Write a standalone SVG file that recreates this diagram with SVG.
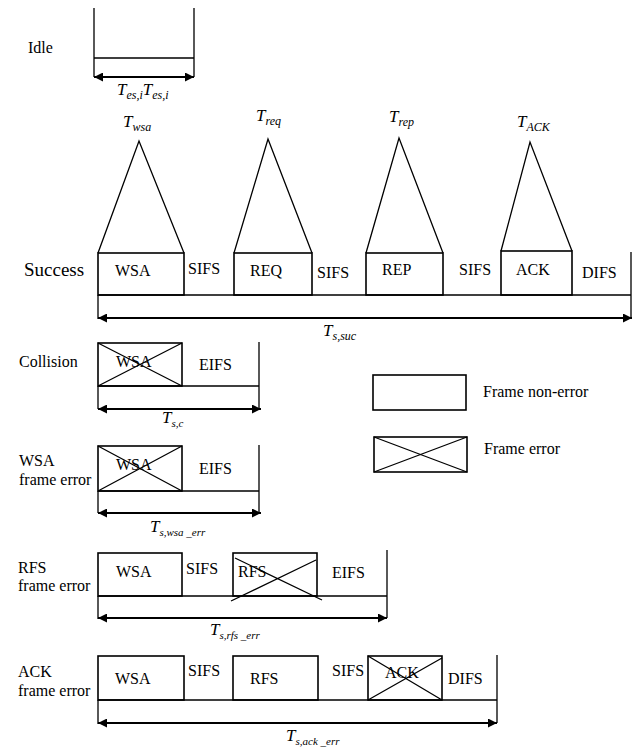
<svg xmlns="http://www.w3.org/2000/svg" width="642" height="747" viewBox="0 0 642 747">
<defs>
<style>
text{font-family:"Liberation Serif","Times New Roman",serif;font-size:16px;fill:#000}
.m{font-style:italic;font-size:17px}
.sub{font-size:12px}
.sub2{font-size:11px}
.box{fill:#fff;stroke:#000;stroke-width:1.6}
.ln{fill:none;stroke:#000;stroke-width:1.3}
.ar{fill:none;stroke:#000;stroke-width:2.2;marker-start:url(#ah);marker-end:url(#ah)}
</style>
<marker id="ah" viewBox="0 0 10 10" refX="10" refY="5" markerWidth="11" markerHeight="9" markerUnits="userSpaceOnUse" orient="auto-start-reverse"><path d="M0,0 L10,5 L0,10 z" fill="#000"/></marker>
</defs>
<rect width="642" height="747" fill="#fff"/>

<!-- Idle -->
<g id="idle-label"><text x="28" y="53">Idle</text></g>
<g id="idle-time"><text class="m" x="117" y="95">T<tspan class="sub" dy="4">es,i</tspan><tspan dy="-4">T</tspan><tspan class="sub" dy="4">es,i</tspan></text></g>

<!-- Success -->
<g id="success-label"><text x="24" y="276" style="font-size:19px">Success</text></g>
<g id="s-wsa"><rect class="box" x="98" y="253" width="86" height="42"/><text x="115" y="276">WSA</text></g>
<g id="s-sifs1"><text x="188" y="274">SIFS</text></g>
<g id="s-req"><rect class="box" x="234" y="253" width="78" height="42"/><text x="250" y="276">REQ</text></g>
<g id="s-sifs2"><text x="317" y="278">SIFS</text></g>
<g id="s-rep"><rect class="box" x="366" y="253" width="77" height="42"/><text x="382" y="275">REP</text></g>
<g id="s-sifs3"><text x="459" y="275">SIFS</text></g>
<g id="s-ack"><rect class="box" x="501" y="251" width="71" height="44"/><text x="516" y="275">ACK</text></g>
<g id="s-difs"><text x="582" y="278">DIFS</text></g>
<g id="t-wsa"><text class="m" x="123" y="127">T<tspan class="sub" dy="4">wsa</tspan></text></g>
<g id="t-req"><text class="m" x="256" y="121">T<tspan class="sub" dy="4">req</tspan></text></g>
<g id="t-rep"><text class="m" x="389" y="122">T<tspan class="sub" dy="4">rep</tspan></text></g>
<g id="t-ack"><text class="m" x="517" y="127">T<tspan class="sub" dy="4">ACK</tspan></text></g>
<g id="t-suc"><text class="m" x="323" y="336">T<tspan class="sub" dy="4">s,suc</tspan></text></g>

<!-- Collision -->
<g id="collision-label"><text x="19" y="367">Collision</text></g>
<g id="c-wsa"><rect class="box" x="98" y="343" width="84" height="43"/><text x="116" y="367">WSA</text><path class="ln" d="M98,343 L182,386 M98,386 L182,343"/></g>
<g id="c-eifs"><text x="199" y="370">EIFS</text></g>
<g id="t-c"><text class="m" x="162" y="423">T<tspan class="sub2" dy="4">s,c</tspan></text></g>

<!-- Legend -->
<g id="legend-ok"><rect class="box" x="373" y="375" width="93" height="35"/><text x="483" y="397">Frame non-error</text></g>
<g id="legend-err"><rect class="box" x="374" y="437" width="93" height="35"/><path class="ln" d="M374,437 L467,472 M374,472 L467,437"/><text x="484" y="454">Frame error</text></g>

<!-- WSA frame error -->
<g id="wsaerr-label"><text x="19" y="466">WSA</text><text x="19" y="485">frame error</text></g>
<g id="w-wsa"><rect class="box" x="98" y="446" width="84" height="45"/><text x="116" y="470">WSA</text><path class="ln" d="M98,446 L182,491 M98,491 L182,446"/></g>
<g id="w-eifs"><text x="199" y="474">EIFS</text></g>
<g id="t-wsaerr"><text class="m" x="150" y="532">T<tspan class="sub2" dy="4">s,wsa _err</tspan></text></g>

<!-- RFS frame error -->
<g id="rfserr-label"><text x="18" y="573">RFS</text><text x="18" y="591">frame error</text></g>
<g id="r-wsa"><rect class="box" x="98" y="553" width="84" height="43"/><text x="116" y="577">WSA</text></g>
<g id="r-sifs"><text x="186" y="574">SIFS</text></g>
<g id="r-rfs"><rect class="box" x="233" y="553" width="84" height="43"/><text x="238" y="577">RFS</text><path class="ln" d="M231,601 L316,560 M235,558 L322,600"/></g>
<g id="r-eifs"><text x="332" y="578">EIFS</text></g>
<g id="t-rfserr"><text class="m" x="210" y="635">T<tspan class="sub2" dy="4">s,rfs _err</tspan></text></g>

<!-- ACK frame error -->
<g id="ackerr-label"><text x="18" y="677">ACK</text><text x="18" y="696">frame error</text></g>
<g id="a-wsa"><rect class="box" x="98" y="656" width="86" height="44"/><text x="115" y="684">WSA</text></g>
<g id="a-sifs1"><text x="188" y="676">SIFS</text></g>
<g id="a-rfs"><rect class="box" x="233" y="656" width="85" height="44"/><text x="250" y="684">RFS</text></g>
<g id="a-sifs2"><text x="332" y="676">SIFS</text></g>
<g id="a-ack"><rect class="box" x="368" y="656" width="74" height="44"/><text x="385" y="678">ACK</text><path class="ln" d="M368,656 L442,700 M368,700 L442,658"/></g>
<g id="a-difs"><text x="448" y="684">DIFS</text></g>
<g id="t-ackerr"><text class="m" x="286" y="741">T<tspan class="sub2" dy="4">s,ack _err</tspan></text></g>

<g id="connectors">
<!-- idle -->
<path class="ln" d="M94,8 V77 M194,8 V77 M94,58 H194"/>
<line class="ar" x1="94" y1="77" x2="194" y2="77"/>
<!-- success -->
<path class="ln" d="M98,253 L139,141 L184,253 M234,253 L268,139 L312,253 M366,253 L399,138 L443,253 M501,251 L530,142 L572,251"/>
<path class="ln" d="M98,295 H631 M631,252 V318 M98,295 V319"/>
<line class="ar" x1="98" y1="318" x2="632" y2="318"/>
<!-- collision -->
<path class="ln" d="M98,386 H259 M259,342 V409 M98,386 V409"/>
<line class="ar" x1="98" y1="409" x2="261" y2="409"/>
<!-- wsa error -->
<path class="ln" d="M98,491 H259 M259,445 V513 M98,491 V513"/>
<line class="ar" x1="98" y1="513" x2="261" y2="513"/>
<!-- rfs error -->
<path class="ln" d="M98,596 H387 M387,550 V618 M98,596 V619"/>
<line class="ar" x1="98" y1="618" x2="387" y2="618"/>
<!-- ack error -->
<path class="ln" d="M98,700 H497 M497,655 V723 M98,700 V724"/>
<line class="ar" x1="98" y1="723" x2="497" y2="723"/>
</g>
</svg>
